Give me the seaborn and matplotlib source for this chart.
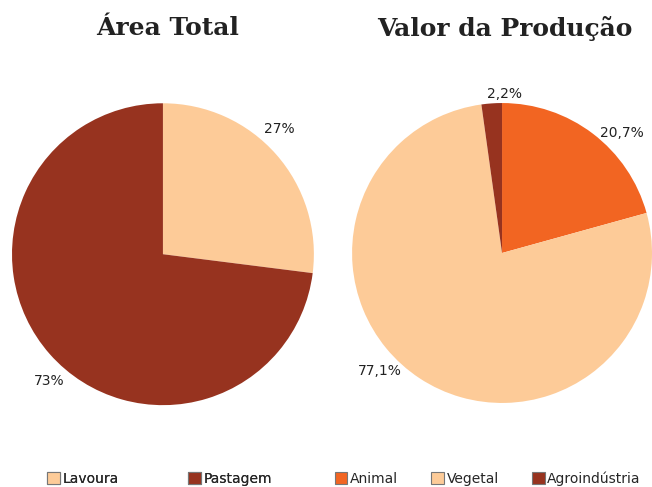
import numpy as np
import matplotlib.pyplot as plt
import seaborn as sns
from matplotlib.patches import Patch

sns.set_style('white')
plt.rcParams['font.family'] = ['DejaVu Sans']

# dados
area_labels = ['Lavoura', 'Pastagem']
area_values = [27, 73]
valor_labels = ['Animal', 'Vegetal', 'Agroindústria']
valor_values = [20.7, 77.1, 2.2]

light = '#FDCB98'
dark = '#97331F'
orange = '#F26522'
area_colors = [light, dark]
valor_colors = [orange, light, dark]

# angulos (graus) e distancias dos rotulos, estilo Excel
area_lab_ang = [47, -132]
valor_lab_ang = [45, -136, 89]
lab_dist = [1.13, 1.13, 1.06]


def fmt(v):
    s = ('%.1f' % v).rstrip('0').rstrip('.')
    return s.replace('.', ',') + '%'


fig = plt.figure(figsize=(6.52, 4.87), dpi=100)
ax1 = fig.add_axes([0.0184, 0.168, 0.463, 0.62])
ax2 = fig.add_axes([0.540, 0.1725, 0.460, 0.616])

for ax, vals, cols, angs in [(ax1, area_values, area_colors, area_lab_ang),
                             (ax2, valor_values, valor_colors, valor_lab_ang)]:
    ax.pie(vals, colors=cols, startangle=90, counterclock=False,
           wedgeprops=dict(linewidth=0))
    for v, a, d in zip(vals, angs, lab_dist):
        t = np.deg2rad(a)
        ax.text(d * np.cos(t), d * np.sin(t), fmt(v), ha='center', va='center',
                fontsize=10, color='#222222')
    ax.set_xlim(-1, 1)
    ax.set_ylim(-1, 1)
    ax.set_aspect('equal')
    ax.axis('off')

fig.text(0.257, 0.942, 'Área Total', ha='center', va='center',
         fontsize=18, fontweight='bold', family='DejaVu Serif', color='#222222')
fig.text(0.775, 0.942, 'Valor da Produção', ha='center', va='center',
         fontsize=18, fontweight='bold', family='DejaVu Serif', color='#222222')

h1 = [Patch(facecolor=c, edgecolor='#777777', linewidth=0.8, label=l)
      for c, l in zip(area_colors, area_labels)]
h2 = [Patch(facecolor=c, edgecolor='#777777', linewidth=0.8, label=l)
      for c, l in zip(valor_colors, valor_labels)]
leg1 = fig.legend(handles=h1, loc='center', bbox_to_anchor=(0.245, 0.017), ncol=2,
                  frameon=False, fontsize=10, handlelength=0.9, handleheight=0.9,
                  handletextpad=0.2, columnspacing=5.0)
fig.add_artist(leg1)
fig.legend(handles=h2, loc='center', bbox_to_anchor=(0.748, 0.017), ncol=3,
           frameon=False, fontsize=10, handlelength=0.9, handleheight=0.9,
           handletextpad=0.2, columnspacing=2.4)

fig.savefig('out.png', dpi=100)
